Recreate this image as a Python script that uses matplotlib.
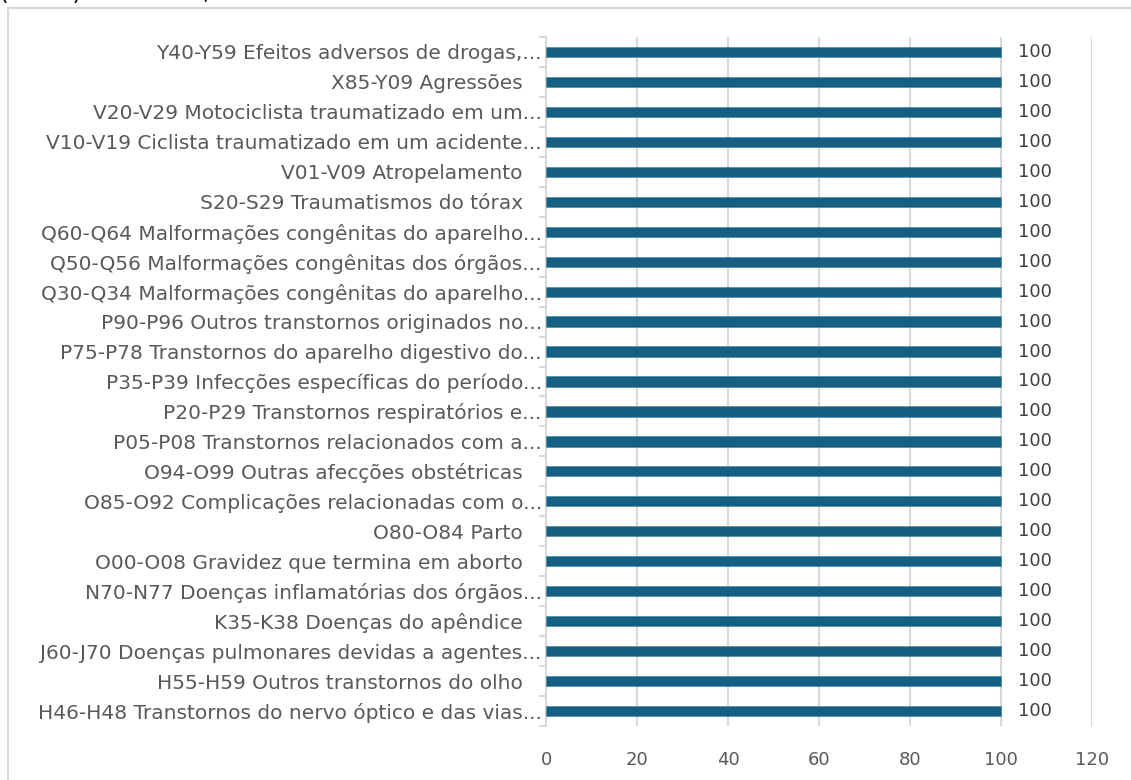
import matplotlib
matplotlib.use("Agg")
import matplotlib.pyplot as plt
from matplotlib.patches import Rectangle
from matplotlib.ticker import MultipleLocator

plt.rcParams["font.family"] = ["DejaVu Sans"]

title = "(100%) em Macaé, 2024 - 2025"

categories = [
    "Y40-Y59 Efeitos adversos de drogas,...",
    "X85-Y09 Agressões   ",
    "V20-V29 Motociclista traumatizado em um...",
    "V10-V19 Ciclista traumatizado em um acidente...",
    "V01-V09 Atropelamento   ",
    "S20-S29 Traumatismos do tórax   ",
    "Q60-Q64 Malformações congênitas do aparelho...",
    "Q50-Q56 Malformações congênitas dos órgãos...",
    "Q30-Q34 Malformações congênitas do aparelho...",
    "P90-P96 Outros transtornos originados no...",
    "P75-P78 Transtornos do aparelho digestivo do...",
    "P35-P39 Infecções específicas do período...",
    "P20-P29 Transtornos respiratórios e...",
    "P05-P08 Transtornos relacionados com a...",
    "O94-O99 Outras afecções obstétricas   ",
    "O85-O92 Complicações relacionadas com o...",
    "O80-O84 Parto   ",
    "O00-O08 Gravidez que termina em aborto   ",
    "N70-N77 Doenças inflamatórias dos órgãos...",
    "K35-K38 Doenças do apêndice   ",
    "J60-J70 Doenças pulmonares devidas a agentes...",
    "H55-H59 Outros transtornos do olho   ",
    "H46-H48 Transtornos do nervo óptico e das vias...",
]
values = [100] * len(categories)

W, H = 1131, 780
fig = plt.figure(figsize=(W / 100, H / 100), dpi=100)
ax = fig.add_axes([546 / W, 1 - 726 / H, (1092 - 546) / W, (726 - 37) / H])

# moldura do gráfico (cortada pelas bordas da imagem)
fig.patches.append(Rectangle((8 / W, -0.05), 1.1, 1 - 8 / H + 0.05,
                             transform=fig.transFigure, fill=False,
                             edgecolor="#d9d9d9", linewidth=1.5))
fig.text(0.0, 1 - 4 / H, title, fontsize=16, color="black", va="bottom", ha="left")

pos = list(range(len(categories)))
ax.barh(pos, values, height=0.34, color="#156082", edgecolor="#3d7fa0",
        linewidth=0.4, zorder=3)
for y, v in zip(pos, values):
    ax.text(v + 3.7, y, f"{v}", va="center", ha="left", fontsize=13, color="#404040")

ax.set_xlim(0, 120)
ax.set_ylim(len(categories) - 0.5, -0.5)
ax.xaxis.set_major_locator(MultipleLocator(20))
ax.set_yticks(pos)
ax.set_yticklabels(categories)
ax.set_yticks([p + 0.5 for p in range(-1, len(categories))], minor=True)

ax.grid(axis="x", color="#d9d9d9", linewidth=1.5, zorder=0)
for s in ["top", "right", "bottom"]:
    ax.spines[s].set_visible(False)
ax.spines["left"].set_color("#d9d9d9")
ax.spines["left"].set_linewidth(1.5)

ax.tick_params(axis="y", which="major", length=0, pad=3, labelsize=14.5, labelcolor="#595959")
ax.tick_params(axis="y", which="minor", length=5, width=1.5, color="#d9d9d9")
ax.tick_params(axis="x", length=0, pad=18, labelsize=13, labelcolor="#595959")

fig.savefig("out.png", dpi=100)
